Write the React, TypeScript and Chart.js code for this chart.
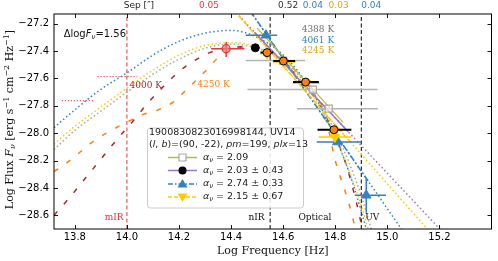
import React, { useEffect, useRef } from "react";
import { Chart, registerables } from "chart.js";

Chart.register(...registerables);

// ---------- axes ----------
const X_MIN = 13.72;
const X_MAX = 15.4;
const Y_MIN = -28.7;
const Y_MAX = -27.13;
const xTicks = [13.8, 14.0, 14.2, 14.4, 14.6, 14.8, 15.0, 15.2];
const yTicks = [-27.2, -27.4, -27.6, -27.8, -28.0, -28.2, -28.4, -28.6];

// ---------- blackbody fits (dotted) ----------
const bbFreq = [13.72, 13.8, 13.9, 14.0, 14.1, 14.2, 14.3, 14.4, 14.5, 14.6, 14.7, 14.75, 14.8, 14.85, 14.9, 14.95];
const bb4061 = [-27.96, -27.83, -27.68, -27.56, -27.43, -27.33, -27.27, -27.25, -27.3, -27.43, -27.66, -27.83, -28.03, -28.27, -28.57, -28.92];
const bb4245 = [-28.08, -27.95, -27.81, -27.67, -27.54, -27.43, -27.36, -27.34, -27.37, -27.48, -27.69, -27.84, -28.03, -28.26, -28.53, -28.86];
const bb4388 = [-28.12, -27.98, -27.84, -27.7, -27.57, -27.46, -27.38, -27.35, -27.38, -27.47, -27.67, -27.81, -27.99, -28.2, -28.46, -28.78];

// ---------- model curves (dashed) ----------
const m4000Freq = [13.72, 13.78, 13.84, 13.9, 13.96, 14.02, 14.08, 14.14, 14.2, 14.26, 14.32, 14.38, 14.44, 14.5, 14.56, 14.62, 14.68, 14.74, 14.8, 14.84, 14.87, 14.895, 14.91];
const m4000 = [-28.6, -28.47, -28.33, -28.19, -28.05, -27.92, -27.78, -27.66, -27.55, -27.47, -27.41, -27.38, -27.37, -27.39, -27.44, -27.52, -27.64, -27.8, -28.02, -28.22, -28.42, -28.62, -28.76];
const m4250Freq = [13.72, 13.76, 13.81, 13.86, 13.93, 13.99, 14.06, 14.12, 14.18, 14.23, 14.3, 14.35, 14.4, 14.46, 14.52, 14.58, 14.64, 14.7, 14.76, 14.8, 14.83, 14.855, 14.875, 14.89];
const m4250 = [-28.28, -28.23, -28.155, -28.075, -27.99, -27.93, -27.865, -27.83, -27.77, -27.68, -27.55, -27.45, -27.39, -27.37, -27.39, -27.44, -27.53, -27.66, -27.86, -28.2, -28.38, -28.53, -28.68, -28.78];

// ---------- power-law fits ----------
const purpleFitX = [14.49, 14.85];
const purpleFitY = [-27.263, -27.99];
const purpleExtX = [14.42, 15.21];
const purpleExtY = [-27.121, -28.717];
const oliveFitX = [14.5, 14.83];
const oliveFitY = [-27.233, -27.922];
const goldFitX = [14.43, 14.86];
const goldFitY = [-27.144, -28.069];
const goldExtX = [14.42, 15.16];
const goldExtY = [-27.123, -28.714];
const blueFitX = [14.475, 14.93];
const blueFitY = [-27.113, -28.36];
const blueExtX = [14.475, 15.06];
const blueExtY = [-27.113, -28.716];

// ---------- photometry ----------
const grayX = [14.6, 14.714, 14.775];
const grayY = [-27.47, -27.682, -27.821];
const grayXLo = [14.456, 14.463, 14.653];
const grayXHi = [14.684, 14.962, 14.964];

const blackX = [14.493];
const blackY = [-27.377];

const orangeX = [14.538, 14.601, 14.686, 14.795];
const orangeY = [-27.412, -27.473, -27.627, -27.975];
const orangeXLo = [14.513, 14.562, 14.638, 14.732];
const orangeXHi = [14.562, 14.646, 14.737, 14.862];

const redX = [14.381];
const redY = [-27.383];
const redXLo = [14.323];
const redXHi = [14.451];
const redYLo = [-27.444];
const redYHi = [-27.334];

const blueX = [14.534, 14.808, 14.919];
const blueY = [-27.285, -28.065, -28.454];
const blueXLo = [14.456, 14.729, 14.875];
const blueXHi = [14.577, 14.9, 14.995];
const blueYLo = [-27.295, -28.075, -28.58];
const blueYHi = [-27.275, -28.055, -28.33];

const goldX = [14.538, 14.601, 14.686, 14.799];
const goldY = [-27.42, -27.48, -27.635, -28.028];
const goldXLo = [14.51, 14.56, 14.636, 14.736];
const goldXHi = [14.565, 14.648, 14.74, 14.862];

// ---------- reference lines ----------
const bandEdges = [14.0, 14.55, 14.9];
const mirBar1X = [13.887, 14.039];
const mirBar1Y = -27.587;
const mirBar2X = [13.75, 13.877];
const mirBar2Y = -27.763;

// ---------- texts ----------
const sepLabels = ["Sep [\u2033]", "0.05", "0.52", "0.04", "0.03", "0.04"];
const sepLabelX = [14.046, 14.315, 14.619, 14.714, 14.813, 14.938];
const tempLabels = ["4388 K", "4061 K", "4245 K"];
const tempLabelY = [-27.242, -27.322, -27.4];
const regionLabels = ["mIR", "nIR", "Optical", "UV"];
const regionLabelX = [13.951, 14.4975, 14.722, 14.942];
const legendTitle1 = "1900830823016998144, UV14";
const alphaValues = ["2.09", "2.03 \u00b1 0.43", "2.74 \u00b1 0.33", "2.15 \u00b1 0.67"];

// ---------- colours ----------
const BLUE = "#3580c0";
const GOLD = "#ffcc00";
const GOLD_TXT = "#d9a520";
const GRAY = "#a8a8a8";
const PURPLE = "#9c74c9";
const OLIVE = "#bcbd22";
const ORANGE = "#ff7f0e";
const RED = "#e0383c";
const DARKRED = "#a8282a";

const pts = (xs: number[], ys: number[]) => xs.map((x, i) => ({ x, y: ys[i] }));
const hline = (xs: number[], y: number) => xs.map((x) => ({ x, y }));

function errorSegments(xs: number[], ys: number[], xLo: number[], xHi: number[], yLo?: number[], yHi?: number[]) {
  const out: any[] = [];
  xs.forEach((x, i) => {
    out.push({ x: xLo[i], y: ys[i] }, { x: xHi[i], y: ys[i] }, { x, y: null });
    if (yLo && yHi) out.push({ x, y: yLo[i] }, { x, y: yHi[i] }, { x, y: null });
  });
  return out;
}

const lineDs = (data: any[], color: string, width: number, dash: number[] = [], smooth = false) => ({
  data,
  borderColor: color,
  borderWidth: width,
  borderDash: dash,
  pointRadius: 0,
  fill: false,
  showLine: true,
  cubicInterpolationMode: smooth ? "monotone" : "default",
});

const markerDs = (data: any[], style: string, r: number, bg: string, border: string, bw: number, rot = 0) => ({
  data,
  showLine: false,
  pointStyle: style,
  pointRadius: r,
  pointBackgroundColor: bg,
  pointBorderColor: border,
  pointBorderWidth: bw,
  pointRotation: rot,
});

type Seg = { t: string; f: string; dy?: number };
function drawRich(ctx: CanvasRenderingContext2D, segs: Seg[], x: number, y: number, align: string, color: string) {
  let w = 0;
  segs.forEach((s) => {
    ctx.font = s.f;
    w += ctx.measureText(s.t).width;
  });
  let cx = align === "left" ? x : align === "center" ? x - w / 2 : x - w;
  ctx.fillStyle = color;
  ctx.textBaseline = "middle";
  ctx.textAlign = "left";
  segs.forEach((s) => {
    ctx.font = s.f;
    ctx.fillText(s.t, cx, y + (s.dy || 0));
    cx += ctx.measureText(s.t).width;
  });
}

const SANS = "'DejaVu Sans'";
const SERIF = "'DejaVu Serif'";

const overlay = {
  id: "overlay",
  afterDraw(chart: any) {
    const ctx: CanvasRenderingContext2D = chart.ctx;
    const xs = chart.scales.x;
    const ys = chart.scales.y;
    const a = chart.chartArea;
    const X = (v: number) => xs.getPixelForValue(v);
    const Y = (v: number) => ys.getPixelForValue(v);
    ctx.save();

    // frame and inward ticks
    ctx.strokeStyle = "#000";
    ctx.lineWidth = 1;
    ctx.strokeRect(a.left, a.top, a.right - a.left, a.bottom - a.top);
    ctx.lineWidth = 0.9;
    ctx.beginPath();
    xTicks.forEach((v) => {
      const p = Math.round(X(v)) + 0.5;
      ctx.moveTo(p, a.bottom);
      ctx.lineTo(p, a.bottom - 4);
      ctx.moveTo(p, a.top);
      ctx.lineTo(p, a.top + 4);
    });
    yTicks.forEach((v) => {
      const p = Math.round(Y(v)) + 0.5;
      ctx.moveTo(a.left, p);
      ctx.lineTo(a.left + 4, p);
      ctx.moveTo(a.right, p);
      ctx.lineTo(a.right - 4, p);
    });
    ctx.stroke();

    // top separation labels
    const sepColors = ["#222", RED, "#333", BLUE, GOLD_TXT, BLUE];
    sepLabels.forEach((t, i) => {
      drawRich(ctx, [{ t, f: `9px ${SANS}` }], X(sepLabelX[i]), 6, "center", sepColors[i]);
    });

    // delta log F
    drawRich(
      ctx,
      [
        { t: "\u0394log", f: `10px ${SANS}` },
        { t: "F", f: `italic 10px ${SANS}` },
        { t: "\u03bd", f: `italic 7px ${SANS}`, dy: 2.5 },
        { t: "=1.56", f: `10px ${SANS}` },
      ],
      X(13.757),
      Y(-27.278),
      "left",
      "#111"
    );

    // temperature labels
    const tColors = ["#6e6e6e", BLUE, GOLD_TXT];
    tempLabels.forEach((t, i) => {
      drawRich(ctx, [{ t, f: `9px ${SERIF}` }], X(14.671), Y(tempLabelY[i]), "left", tColors[i]);
    });
    drawRich(ctx, [{ t: "4000 K", f: `9px ${SERIF}` }], X(14.01), Y(-27.656), "left", DARKRED);
    drawRich(ctx, [{ t: "4250 K", f: `9px ${SERIF}` }], X(14.27), Y(-27.643), "left", ORANGE);

    // region labels
    const rColors = [RED, "#111", "#111", "#111"];
    regionLabels.forEach((t, i) => {
      drawRich(ctx, [{ t, f: `9px ${SERIF}` }], X(regionLabelX[i]), Y(-28.615), "center", rColors[i]);
    });

    // legend
    const lx = 147, ly = 127.5, lw = 156, lh = 80;
    ctx.beginPath();
    ctx.roundRect(lx + 0.5, ly + 0.5, lw, lh, 3);
    ctx.fillStyle = "rgba(255,255,255,0.85)";
    ctx.fill();
    ctx.strokeStyle = "#cccccc";
    ctx.lineWidth = 1;
    ctx.stroke();
    const lf = `9.5px ${SANS}`;
    const lfi = `italic 9.5px ${SANS}`;
    drawRich(ctx, [{ t: legendTitle1, f: lf }], 149, 133, "left", "#222");
    drawRich(
      ctx,
      [
        { t: "(", f: lf },
        { t: "l", f: lfi },
        { t: ", ", f: lf },
        { t: "b", f: lfi },
        { t: ")=(90, -22), ", f: lf },
        { t: "pm", f: lfi },
        { t: "=199, ", f: lf },
        { t: "plx", f: lfi },
        { t: "=13", f: lf },
      ],
      149,
      144.5,
      "left",
      "#222"
    );
    const rows = [157.5, 170.5, 184, 197];
    const hx0 = 168, hx1 = 197, mx = 182.5;
    const lineCols = [OLIVE, PURPLE, BLUE, GOLD];
    const dashes = [[], [], [5, 2, 1.5, 2], [4, 2]];
    rows.forEach((ry, i) => {
      ctx.save();
      ctx.strokeStyle = lineCols[i];
      ctx.lineWidth = 1.5;
      ctx.setLineDash(dashes[i]);
      ctx.beginPath();
      ctx.moveTo(hx0, ry);
      ctx.lineTo(hx1, ry);
      ctx.stroke();
      ctx.restore();
      ctx.beginPath();
      if (i === 0) {
        ctx.rect(mx - 3.5, ry - 3.5, 7, 7);
        ctx.fillStyle = "#fff";
        ctx.fill();
        ctx.strokeStyle = GRAY;
        ctx.lineWidth = 1.2;
        ctx.stroke();
      } else if (i === 1) {
        ctx.arc(mx, ry, 4, 0, Math.PI * 2);
        ctx.fillStyle = "#000";
        ctx.fill();
      } else if (i === 2) {
        ctx.moveTo(mx, ry - 5);
        ctx.lineTo(mx + 5, ry + 3.5);
        ctx.lineTo(mx - 5, ry + 3.5);
        ctx.closePath();
        ctx.fillStyle = BLUE;
        ctx.fill();
      } else {
        ctx.moveTo(mx, ry + 5);
        ctx.lineTo(mx + 5, ry - 3.5);
        ctx.lineTo(mx - 5, ry - 3.5);
        ctx.closePath();
        ctx.fillStyle = GOLD;
        ctx.fill();
      }
      drawRich(
        ctx,
        [
          { t: "\u03b1", f: lfi },
          { t: "\u03bd", f: `italic 6.8px ${SANS}`, dy: 2.5 },
          { t: " = " + alphaValues[i], f: lf },
        ],
        203,
        ry,
        "left",
        "#222"
      );
    });

    // axis titles
    drawRich(ctx, [{ t: "Log Frequency [Hz]", f: `11px ${SERIF}` }], (a.left + a.right) / 2, 251.5, "center", "#111");
    ctx.save();
    ctx.translate(10, (a.top + a.bottom) / 2 - 2);
    ctx.rotate(-Math.PI / 2);
    const tf = `11px ${SERIF}`;
    const sf = `8px ${SERIF}`;
    drawRich(
      ctx,
      [
        { t: "Log Flux ", f: tf },
        { t: "F", f: `italic 11px ${SERIF}` },
        { t: "\u03bd", f: `italic 8px ${SERIF}`, dy: 2.5 },
        { t: " [erg s", f: tf },
        { t: "\u22121", f: sf, dy: -3.5 },
        { t: " cm", f: tf },
        { t: "\u22122", f: sf, dy: -3.5 },
        { t: " Hz", f: tf },
        { t: "\u22121", f: sf, dy: -3.5 },
        { t: "]", f: tf },
      ],
      0,
      0,
      "center",
      "#111"
    );
    ctx.restore();
    ctx.restore();
  },
};

const fmt = (v: number) => (v < 0 ? "\u2212" : "") + Math.abs(v).toFixed(1);

export default function App() {
  const ref = useRef<HTMLCanvasElement>(null);
  useEffect(() => {
    const canvas = ref.current as HTMLCanvasElement;
    const datasets: any[] = [
      markerDs(pts(orangeX, orangeY), "circle", 4, ORANGE, "#000", 1),
      lineDs(errorSegments(orangeX, orangeY, orangeXLo, orangeXHi), "#000", 2),
      markerDs(pts(blackX, blackY), "circle", 4, "#000", "#000", 1),
      markerDs(pts(redX, redY), "circle", 4, "rgba(240,130,130,0.7)", RED, 1.2),
      lineDs(errorSegments(redX, redY, redXLo, redXHi, redYLo, redYHi), RED, 1.5),
      markerDs(pts(goldX, goldY), "triangle", 5.5, GOLD, GOLD, 1, 180),
      lineDs(errorSegments(goldX, goldY, goldXLo, goldXHi), GOLD, 1.5),
      markerDs(pts(blueX, blueY), "triangle", 5.5, BLUE, BLUE, 1),
      lineDs(errorSegments(blueX, blueY, blueXLo, blueXHi, blueYLo, blueYHi), BLUE, 1.5),
      markerDs(pts(grayX, grayY), "rect", 5, "rgba(255,255,255,0.6)", GRAY, 1.2),
      lineDs(errorSegments(grayX, grayY, grayXLo, grayXHi), "#b4b4b4", 1.5),
      lineDs(pts(purpleFitX, purpleFitY), PURPLE, 1.5),
      lineDs(pts(oliveFitX, oliveFitY), OLIVE, 1.2),
      lineDs(pts(goldFitX, goldFitY), GOLD, 1.5, [5, 2.5]),
      lineDs(pts(blueFitX, blueFitY), BLUE, 1.5, [6, 2.5, 1.5, 2.5]),
      lineDs(pts(purpleExtX, purpleExtY), PURPLE, 1.5, [1.5, 2.5]),
      lineDs(pts(goldExtX, goldExtY), GOLD, 1.5, [1.5, 2.5]),
      lineDs(pts(blueExtX, blueExtY), BLUE, 1.5, [1.5, 2.5]),
      lineDs(pts(bbFreq, bb4061), BLUE, 1.5, [1.5, 2.5], true),
      lineDs(pts(bbFreq, bb4245), GOLD, 1.5, [1.5, 2.5], true),
      lineDs(pts(bbFreq, bb4388), GRAY, 1.5, [1.5, 2.5], true),
      lineDs(pts(m4000Freq, m4000), DARKRED, 1.5, [5, 10], true),
      lineDs(pts(m4250Freq, m4250), ORANGE, 1.5, [5, 10], true),
      lineDs(hline(mirBar1X, mirBar1Y), RED, 1, [1.2, 1.8]),
      lineDs(hline(mirBar2X, mirBar2Y), RED, 1, [1.2, 1.8]),
      lineDs([{ x: bandEdges[0], y: Y_MIN }, { x: bandEdges[0], y: Y_MAX }], RED, 1, [4, 2.5]),
      lineDs([{ x: bandEdges[1], y: Y_MIN }, { x: bandEdges[1], y: Y_MAX }], "#000", 1, [4, 2.5]),
      lineDs([{ x: bandEdges[2], y: Y_MIN }, { x: bandEdges[2], y: Y_MAX }], "#000", 1, [4, 2.5]),
    ];
    const chart = new Chart(canvas, {
      type: "line",
      data: { datasets },
      options: {
        animation: false,
        responsive: false,
        devicePixelRatio: 1,
        layout: { padding: { left: 0, right: 2, top: 14, bottom: 0 } },
        plugins: { legend: { display: false }, tooltip: { enabled: false } },
        scales: {
          x: {
            type: "linear",
            min: X_MIN,
            max: X_MAX,
            grid: { display: false, drawTicks: false },
            border: { display: false },
            ticks: { padding: 2, color: "#000", font: { size: 10, family: "DejaVu Sans" }, maxRotation: 0, autoSkip: false, callback: (v: any) => fmt(Number(v)) },
            afterBuildTicks: (s: any) => {
              s.ticks = xTicks.map((v) => ({ value: v }));
            },
            afterFit: (s: any) => {
              s.height = 32;
            },
          },
          y: {
            type: "linear",
            min: Y_MIN,
            max: Y_MAX,
            grid: { display: false, drawTicks: false },
            border: { display: false },
            ticks: { padding: 5, color: "#000", font: { size: 10, family: "DejaVu Sans" }, autoSkip: false, callback: (v: any) => fmt(Number(v)) },
            afterBuildTicks: (s: any) => {
              s.ticks = yTicks.map((v) => ({ value: v }));
            },
            afterFit: (s: any) => {
              s.width = 54;
            },
          },
        },
      } as any,
      plugins: [overlay],
    });
    return () => chart.destroy();
  }, []);
  return (
    <div style={{ position: "fixed", left: 0, top: 0, width: 498, height: 261, background: "#fff" }}>
      <canvas ref={ref} width={498} height={261} style={{ display: "block" }} />
    </div>
  );
}
